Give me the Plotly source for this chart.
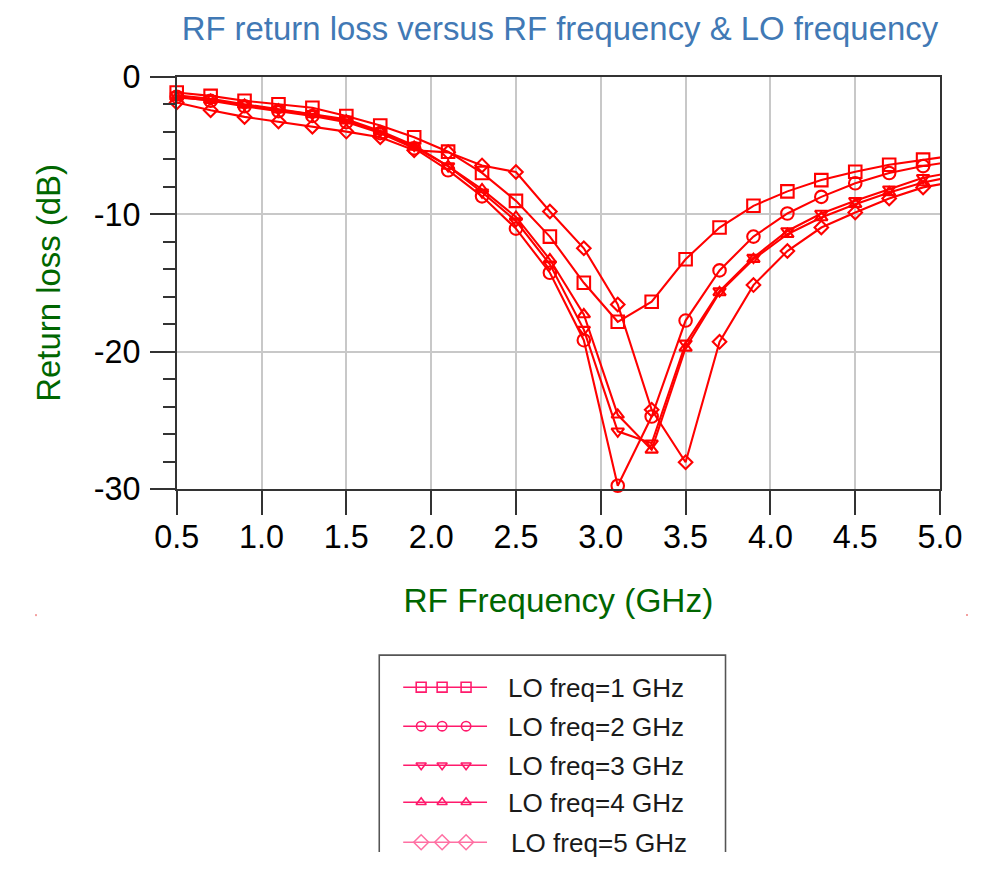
import plotly.graph_objects as go

# ---------------- data ----------------
rf_freq_ghz = [0.5, 0.7, 0.9, 1.1, 1.3, 1.5, 1.7, 1.9, 2.1, 2.3, 2.5, 2.7,
               2.9, 3.1, 3.3, 3.5, 3.7, 3.9, 4.1, 4.3, 4.5, 4.7, 4.9, 5.1]

rl_lo1 = [-1.14, -1.39, -1.75, -2.0, -2.25, -2.85, -3.55, -4.4, -5.45, -7.0, -9.03, -11.63,
          -14.99, -17.83, -16.37, -13.28, -10.97, -9.39, -8.34, -7.52, -6.91, -6.4, -6.03, -5.7]
rl_lo2 = [-1.45, -1.75, -2.15, -2.5, -2.85, -3.3, -4.1, -5.2, -6.8, -8.7, -11.05, -14.26,
          -19.17, -29.76, -24.72, -17.74, -14.09, -11.63, -9.95, -8.74, -7.75, -7.0, -6.5, -6.1]
rl_lo3 = [-1.35, -1.6, -2.0, -2.35, -2.7, -3.1, -3.95, -5.0, -6.5, -8.4, -10.5, -13.65,
          -18.4, -25.8, -26.67, -19.4, -15.6, -13.16, -11.22, -9.95, -9.03, -8.18, -7.35, -6.9]
rl_lo4 = [-1.5, -1.7, -2.05, -2.4, -2.75, -3.2, -4.0, -5.1, -6.5, -8.2, -10.2, -13.3,
          -17.3, -24.6, -27.15, -19.73, -15.7, -13.28, -11.46, -10.24, -9.27, -8.42, -7.69, -7.2]
rl_lo5 = [-1.87, -2.43, -2.92, -3.26, -3.63, -3.99, -4.4, -5.35, -5.5, -6.45, -6.93, -9.8,
          -12.48, -16.57, -24.23, -28.05, -19.29, -15.16, -12.68, -10.97, -9.88, -8.86, -8.05, -7.6]

series_names = ["LO freq=1 GHz", "LO freq=2 GHz", "LO freq=3 GHz", "LO freq=4 GHz", "LO freq=5 GHz"]
series_values = [rl_lo1, rl_lo2, rl_lo3, rl_lo4, rl_lo5]

x_tick_values = [0.5, 1.0, 1.5, 2.0, 2.5, 3.0, 3.5, 4.0, 4.5, 5.0]
x_tick_labels = ["0.5", "1.0", "1.5", "2.0", "2.5", "3.0", "3.5", "4.0", "4.5", "5.0"]
y_tick_values = [0, -10, -20, -30]
y_tick_labels = ["0", "-10", "-20", "-30"]

# ---------------- geometry / style ----------------
W, H = 999, 870
# the photographed page appears shrunk and centred; lay out in target pixels
S = 0.958
OX, OY = (W - S * W) / 2, (H - S * H) / 2
K = 1 / S  # pixel-size compensation


def paper_x(t):
    return ((t - OX) / S) / W


def paper_y(t):
    return 1 - ((t - OY) / S) / H


FONT = "Liberation Sans, Arial, sans-serif"
TRACE_RED = "#ff0000"
symbols = ["square-open", "circle-open", "triangle-down-open", "triangle-up-open", "diamond-open"]
plot_sizes = [12, 12, 10.5, 10.5, 10]
legend_sizes = [9.5, 9, 8.5, 8.5, 11]
legend_colors = ["#ff1a6c", "#ff1a6c", "#ff1a6c", "#ff1a6c", "#ff70a3"]

# plot area in target pixels
PL, PR, PT, PB = 176, 941, 77, 489

fig = go.Figure()

for name, vals, sym, sz in zip(series_names, series_values, symbols, plot_sizes):
    fig.add_trace(go.Scatter(
        x=rf_freq_ghz, y=vals, mode="lines", name=name,
        line=dict(color=TRACE_RED, width=2 * K), cliponaxis=True,
        showlegend=False, hoverinfo="skip"))
    fig.add_trace(go.Scatter(
        x=rf_freq_ghz, y=vals, mode="markers", name=name,
        marker=dict(symbol=sym, size=sz * K, color=TRACE_RED,
                    line=dict(color=TRACE_RED, width=2 * K)),
        cliponaxis=False, showlegend=False))

# ---------------- custom legend on a hidden full-page pixel axis ----------------
LEG_L, LEG_R, LEG_T, LEG_B = 379, 726, 655, 862
row_y = [687, 726, 765, 802, 842]
swatch_x = [421, 442, 466]
shapes = []
annotations = []
for i, (name, sym, sz, col) in enumerate(zip(series_names, symbols, legend_sizes, legend_colors)):
    fig.add_trace(go.Scatter(
        x=swatch_x, y=[row_y[i]] * len(swatch_x), mode="markers",
        marker=dict(symbol=sym, size=sz * K, color=col, line=dict(color=col, width=1.5 * K)),
        xaxis="x2", yaxis="y2", showlegend=False, hoverinfo="skip", cliponaxis=False))
    shapes.append(dict(type="line", xref="x2", yref="y2", x0=403, x1=487,
                       y0=row_y[i], y1=row_y[i], line=dict(color=col, width=1.5 * K),
                       layer="below"))
    annotations.append(dict(text=name, xref="x2", yref="y2", x=506 + (3 if i == 4 else 0),
                            y=row_y[i] + 1, xanchor="left", yanchor="middle", showarrow=False,
                            font=dict(family=FONT, size=25 * K, color="#1a1a1a")))

shapes.append(dict(type="rect", xref="x2", yref="y2",
                   x0=LEG_L, x1=LEG_R, y0=LEG_T, y1=LEG_B,
                   line=dict(color="#555555", width=1.5 * K)))
for (cx, cy) in [(35, 615), (968, 615)]:
    shapes.append(dict(type="rect", xref="x2", yref="y2",
                       x0=cx - 1, x1=cx + 1, y0=cy - 1, y1=cy + 1,
                       line=dict(width=0), fillcolor="#f4a0a0"))

axis_common = dict(showline=True, linecolor="#333333", linewidth=1.5 * K, mirror=True,
                   ticks="outside", tickcolor="#333333", tickwidth=1.5 * K,
                   showgrid=True, gridcolor="#c8c8c8", gridwidth=1.5 * K, zeroline=False,
                   tickfont=dict(family=FONT, size=31 * K, color="black"))

fig.update_layout(
    width=W, height=H,
    margin=dict(l=0, r=0, t=0, b=0),
    paper_bgcolor="white", plot_bgcolor="rgba(0,0,0,0)",
    showlegend=False,
    title=dict(text="RF return loss versus RF frequency &amp; LO frequency",
               x=paper_x(560), xanchor="center", xref="paper",
               y=paper_y(29), yanchor="middle", yref="paper",
               font=dict(family=FONT, size=31.5 * K, color="#4179b5")),
    xaxis=dict(domain=[paper_x(PL), paper_x(PR)], range=[0.5, 5.0],
               tickvals=x_tick_values, ticktext=x_tick_labels, ticklen=23 * K,
               ticklabelstandoff=-6,
               title=dict(text="RF Frequency (GHz)", standoff=35,
                          font=dict(family=FONT, size=32 * K, color="#006600")),
               **axis_common),
    yaxis=dict(domain=[paper_y(PB), paper_y(PT)], range=[-30, 0],
               tickvals=y_tick_values, ticktext=y_tick_labels, ticklen=24 * K,
               ticklabelstandoff=3,
               minor=dict(dtick=2, ticks="outside", ticklen=11 * K, tickcolor="#333333",
                          tickwidth=1.5 * K, showgrid=False),
               title=dict(text="Return loss (dB)", standoff=23,
                          font=dict(family=FONT, size=31.5 * K, color="#006600")),
               **axis_common),
    xaxis2=dict(domain=[0, 1], range=[OX, OX + S * W], visible=False,
                anchor="y2", fixedrange=True),
    yaxis2=dict(domain=[0, 1], range=[OY + S * H, OY], visible=False,
                anchor="x2", fixedrange=True),
    shapes=shapes,
    annotations=annotations,
)

fig.write_html(
    "out.html",
    config={"displayModeBar": False},
    post_script="document.body.style.margin='0';document.body.style.overflow='hidden';",
)
